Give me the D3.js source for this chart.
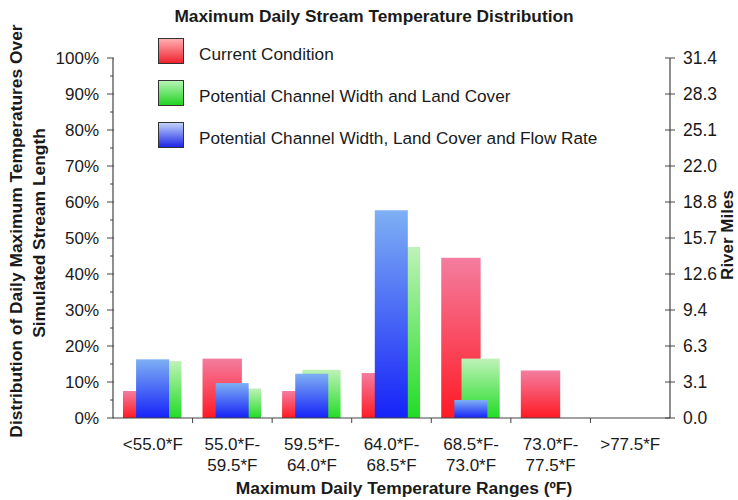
<!DOCTYPE html>
<html>
<head>
<meta charset="utf-8">
<script src="https://cdn.jsdelivr.net/npm/d3@7"></script>
<style>
  html, body { margin: 0; padding: 0; background: #fff; }
  svg { display: block; }
  text { font-family: "Liberation Sans", Arial, sans-serif; fill: #1a1a1a; }
</style>
</head>
<body>
<script>
// ---- data ----
const categories = ["<55.0*F", "55.0*F-59.5*F", "59.5*F-64.0*F", "64.0*F-68.5*F", "68.5*F-73.0*F", "73.0*F-77.5*F", ">77.5*F"];
const categoryLines = [["<55.0*F"], ["55.0*F-", "59.5*F"], ["59.5*F-", "64.0*F"], ["64.0*F-", "68.5*F"], ["68.5*F-", "73.0*F"], ["73.0*F-", "77.5*F"], [">77.5*F"]];
const seriesNames = ["Current Condition", "Potential Channel Width and Land Cover", "Potential Channel Width, Land Cover and Flow Rate"];
const currentCondition = [7.5, 16.5, 7.5, 12.5, 44.5, 13.2, 0];
const widthLandCover = [15.8, 8.2, 13.4, 47.5, 16.5, 0, 0];
const widthLandCoverFlow = [16.3, 9.7, 12.3, 57.7, 5.0, 0, 0];
const leftTicks = [0, 10, 20, 30, 40, 50, 60, 70, 80, 90, 100];
const rightMax = 31.4;
const rightTickLabels = ["0.0", "3.1", "6.3", "9.4", "12.6", "15.7", "18.8", "22.0", "25.1", "28.3", "31.4"];

const W = 738, H = 500;
const svg = d3.select("body").append("svg").attr("width", W).attr("height", H);

const x0 = 113, x1 = 670, yTop = 58, yBot = 418;
const x = d3.scaleBand().domain(categories).range([x0, x1]).paddingInner(0).paddingOuter(0);
const y = d3.scaleLinear().domain([0, 100]).range([yBot, yTop]);
const yR = d3.scaleLinear().domain([0, rightMax]).range([yBot, yTop]);

// gradients
const defs = svg.append("defs");
function grad(id, top, bottom) {
  const g = defs.append("linearGradient").attr("id", id).attr("x1", 0).attr("y1", 0).attr("x2", 0).attr("y2", 1);
  g.append("stop").attr("offset", "0%").attr("stop-color", top);
  g.append("stop").attr("offset", "100%").attr("stop-color", bottom);
}
grad("gRed", "#f47d9f", "#ff1a24");
grad("gGreen", "#bff2b8", "#22dc26");
grad("gBlue", "#7eb0f4", "#1622f8");
grad("lRed", "#ffb0b4", "#f0202c");
grad("lGreen", "#b8f5b8", "#1ed21e");
grad("lBlue", "#c4d6fa", "#1a22e6");

// series specs: drawing order red, green, blue ; offsets are fractions of band
const series = [
  { values: currentCondition, fill: "url(#gRed)", a: 0.125, b: 0.62 },
  { values: widthLandCover, fill: "url(#gGreen)", a: 0.38, b: 0.86 },
  { values: widthLandCoverFlow, fill: "url(#gBlue)", a: 0.29, b: 0.705 }
];
const bw = x.bandwidth();
series.forEach(s => {
  svg.append("g").selectAll("rect")
    .data(categories.map((c, i) => ({ c, v: s.values[i] })).filter(d => d.v > 0))
    .join("rect")
    .attr("x", d => x(d.c) + bw * s.a)
    .attr("width", bw * (s.b - s.a))
    .attr("y", d => y(d.v))
    .attr("height", d => y(0) - y(d.v))
    .attr("fill", s.fill);
});

const axisColor = "#444";
// left axis
const gl = svg.append("g").attr("transform", `translate(${x0},0)`);
gl.append("line").attr("x1", 0).attr("x2", 0).attr("y1", yTop).attr("y2", yBot).attr("stroke", axisColor).attr("stroke-width", 1.2);
gl.selectAll(".maj").data(leftTicks).join("line").attr("x1", -6).attr("x2", 1).attr("y1", d => y(d)).attr("y2", d => y(d)).attr("stroke", axisColor);
gl.selectAll(".min").data(leftTicks.slice(0, -1).map(d => d + 5)).join("line").attr("x1", -3).attr("x2", 0).attr("y1", d => y(d)).attr("y2", d => y(d)).attr("stroke", axisColor);
gl.selectAll("text").data(leftTicks).join("text").attr("x", -14).attr("y", d => y(d) + 6).attr("text-anchor", "end").attr("font-size", 17).text(d => d + "%");

// right axis
const gr = svg.append("g").attr("transform", `translate(${x1},0)`);
gr.append("line").attr("x1", 0).attr("x2", 0).attr("y1", yTop).attr("y2", yBot).attr("stroke", axisColor).attr("stroke-width", 1.2);
gr.selectAll("line.t").data(rightTickLabels).join("line").attr("class", "t")
  .attr("x1", -5).attr("x2", 5).attr("y1", (d, i) => yR(rightMax * i / 10)).attr("y2", (d, i) => yR(rightMax * i / 10)).attr("stroke", axisColor);
gr.selectAll("text").data(rightTickLabels).join("text").attr("x", 13).attr("y", (d, i) => yR(rightMax * i / 10) + 6).attr("font-size", 17.5).text(d => d);

// bottom axis
const gb = svg.append("g");
gb.append("line").attr("x1", x0).attr("x2", x1).attr("y1", yBot).attr("y2", yBot).attr("stroke", axisColor).attr("stroke-width", 1.2);
gb.selectAll("line.t").data(categories.slice(1)).join("line").attr("class", "t")
  .attr("x1", d => x(d)).attr("x2", d => x(d)).attr("y1", yBot).attr("y2", yBot + 5).attr("stroke", axisColor);
categoryLines.forEach((lines, i) => {
  const cx = x(categories[i]) + bw / 2;
  lines.forEach((t, j) => {
    svg.append("text").attr("x", cx).attr("y", 450 + j * 21).attr("text-anchor", "middle").attr("font-size", 17).text(t);
  });
});

// titles
svg.append("text").attr("x", 374).attr("y", 22).attr("text-anchor", "middle").attr("font-size", 17.3).attr("font-weight", "bold").text("Maximum Daily Stream Temperature Distribution");
svg.append("text").attr("x", 404).attr("y", 494).attr("text-anchor", "middle").attr("font-size", 17.4).attr("font-weight", "bold").text("Maximum Daily Temperature Ranges (ºF)");
svg.append("text").attr("transform", "translate(22,231) rotate(-90)").attr("text-anchor", "middle").attr("font-size", 17.4).attr("font-weight", "bold").text("Distribution of Daily Maximum Temperatures Over");
svg.append("text").attr("transform", "translate(45,233) rotate(-90)").attr("text-anchor", "middle").attr("font-size", 17.4).attr("font-weight", "bold").text("Simulated Stream Length");
svg.append("text").attr("transform", "translate(733,235) rotate(-90)").attr("text-anchor", "middle").attr("font-size", 17).attr("font-weight", "bold").text("River Miles");

// legend
const legFills = ["url(#lRed)", "url(#lGreen)", "url(#lBlue)"];
const lg = svg.append("g");
seriesNames.forEach((n, i) => {
  const yy = 38 + i * 42;
  lg.append("rect").attr("x", 158.5).attr("y", yy + 0.5).attr("width", 25).attr("height", 25).attr("fill", legFills[i]).attr("stroke", "#333").attr("stroke-width", 1);
  lg.append("text").attr("x", 199).attr("y", yy + 22).attr("font-size", 17.2).text(n);
});
</script>
</body>
</html>
